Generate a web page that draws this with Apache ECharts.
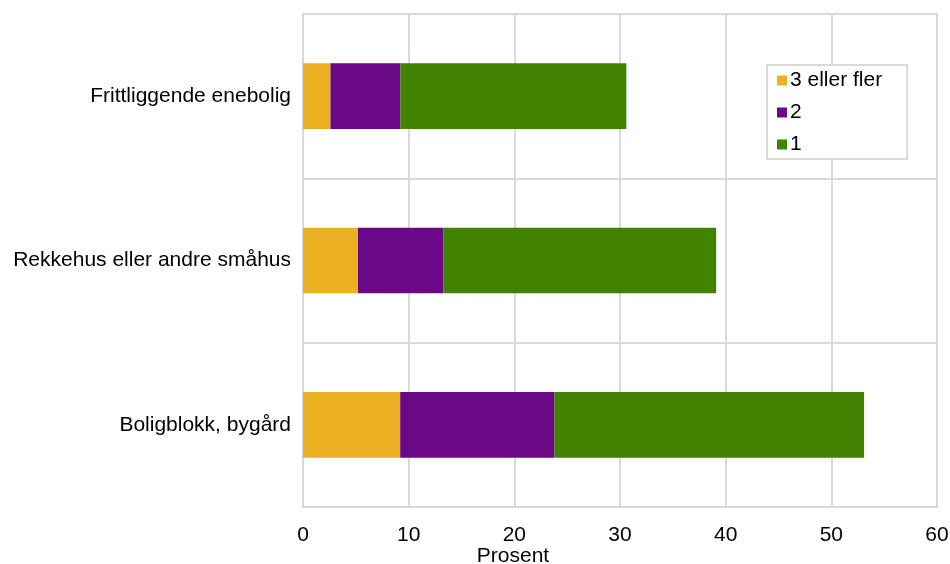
<!DOCTYPE html>
<html>
<head>
<meta charset="utf-8">
<script src="https://cdn.jsdelivr.net/npm/echarts@6/dist/echarts.min.js"></script>
<style>html,body{margin:0;padding:0;background:#fff;}#c{width:950px;height:564px;}</style>
</head>
<body>
<div id="c"></div>
<script>
const categories = ['Frittliggende enebolig', 'Rekkehus eller andre småhus', 'Boligblokk, bygård'];
const seriesNames = ['3 eller fler', '2', '1'];
const tre = [2.6, 5.2, 9.2];
const to = [6.6, 8.1, 14.6];
const en = [21.4, 25.8, 29.3];
const xTicks = [0, 10, 20, 30, 40, 50, 60];
const colors = ['#ECB123', '#6A0888', '#3F8300'];

const chart = echarts.init(document.getElementById('c'), null, {renderer: 'canvas'});
const font = 'Liberation Sans, Arial, sans-serif';
const fs = 21;
const data = [tre, to, en];
chart.setOption({
  animation: false,
  grid: {left: 303, right: 13, top: 14, bottom: 57, show: true, borderColor: '#d9d9d9', borderWidth: 2,
         containLabel: false, outerBoundsMode: 'none'},
  legend: {
    orient: 'vertical', left: 767, top: 65,
    data: seriesNames,
    itemWidth: 10, itemHeight: 10, itemGap: 11,
    borderColor: '#d9d9d9', borderWidth: 2, backgroundColor: '#fff',
    padding: [5, 25, 4, 10],
    textStyle: {fontFamily: font, fontSize: fs, color: '#000', padding: [0, 0, 0, -2]},
    icon: 'rect'
  },
  xAxis: {
    type: 'value', min: xTicks[0], max: xTicks[xTicks.length - 1], interval: 10,
    axisLine: {show: false}, axisTick: {show: false},
    axisLabel: {fontFamily: font, fontSize: fs, color: '#000', margin: 18},
    splitLine: {lineStyle: {color: '#d9d9d9', width: 2}}
  },
  yAxis: {
    type: 'category', data: categories, inverse: true,
    axisLine: {show: false}, axisTick: {show: false},
    axisLabel: {fontFamily: font, fontSize: fs, color: '#000', margin: 12},
    splitLine: {show: true, lineStyle: {color: '#d9d9d9', width: 2}}
  },
  graphic: [{
    type: 'text', x: 513, y: 546,
    style: {text: 'Prosent', fontFamily: font, fontSize: fs, fill: '#000', align: 'center', textAlign: 'center'}
  }],
  series: seriesNames.map((n, i) => ({
    name: n, type: 'bar', stack: 'a', barWidth: '40%',
    itemStyle: {color: colors[i]},
    data: data[i]
  }))
});
</script>
</body>
</html>
